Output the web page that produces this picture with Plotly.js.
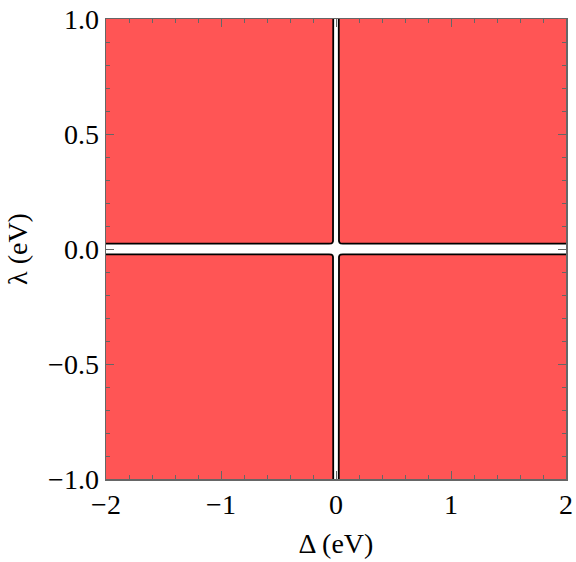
<!DOCTYPE html>
<html>
<head>
<meta charset="utf-8">
<script src="https://cdn.plot.ly/plotly-3.0.1.min.js"></script>
<style>
  body { margin: 0; background: #fff; }
  #graphique { width: 576px; height: 562px; }
</style>
</head>
<body>
<div id="graphique"></div>
<script>
// Bord intérieur de la région (quadrant Δ > 0, λ > 0)
const bord_delta = [0.024, 0.024, 0.026, 0.031, 0.040, 0.060, 2.0];
const bord_lambda = [1.0, 0.048, 0.034, 0.027, 0.024, 0.023, 0.023];
// Coin extérieur du quadrant
const coin_delta = 2.0;
const coin_lambda = 1.0;
// Signes des quatre quadrants
const quadrants = [[1, 1], [-1, 1], [-1, -1], [1, -1]];

const x_ticks = [-2, -1, 0, 1, 2];
const y_ticks = [-1.0, -0.5, 0.0, 0.5, 1.0];

const rouge = '#FF5555';
const gris = '#666666';
const police = 'Liberation Serif, DejaVu Serif, serif';

let donnee = [];

// On remplit chaque quadrant puis on trace sa bordure intérieure
quadrants.forEach(function (s) {
    let xs = bord_delta.map(function (d) { return s[0] * d; });
    let ys = bord_lambda.map(function (l) { return s[1] * l; });

    donnee.push({
        x: xs.concat([s[0] * coin_delta]),
        y: ys.concat([s[1] * coin_lambda]),
        type: 'scatter',
        mode: 'lines',
        fill: 'toself',
        fillcolor: rouge,
        line: {width: 0, color: rouge},
        hoverinfo: 'skip',
        showlegend: false
    });
    donnee.push({
        x: xs,
        y: ys,
        type: 'scatter',
        mode: 'lines',
        line: {width: 1.8, color: '#000000'},
        hoverinfo: 'skip',
        showlegend: false
    });
});

let axe_commun = {
    showgrid: false,
    zeroline: false,
    showline: true,
    mirror: 'ticks',
    linecolor: gris,
    linewidth: 1.5,
    ticks: 'inside',
    ticklen: 8,
    tickwidth: 1,
    tickcolor: gris,
    layer: 'above traces',
    tickfont: {family: police, size: 28, color: '#000000'}
};

let apparence = {
    width: 576,
    height: 562,
    margin: {l: 106, r: 10, t: 19, b: 83},
    paper_bgcolor: '#ffffff',
    plot_bgcolor: '#ffffff',
    showlegend: false,
    xaxis: Object.assign({}, axe_commun, {
        range: [-2, 2],
        tickmode: 'array',
        tickvals: x_ticks,
        ticktext: x_ticks.map(function (v) { return v < 0 ? '\u2212' + Math.abs(v) : String(v); }),
        minor: {dtick: 0.2, ticks: 'inside', ticklen: 4, tickcolor: gris, tickwidth: 1},
        ticklabelstandoff: 0,
        title: {text: '\u0394 (eV)', font: {family: police, size: 28, color: '#000000'}, standoff: 14}
    }),
    yaxis: Object.assign({}, axe_commun, {
        range: [-1, 1],
        tickmode: 'array',
        tickvals: y_ticks,
        ticktext: y_ticks.map(function (v) { return (v < 0 ? '\u2212' : '') + Math.abs(v).toFixed(1); }),
        minor: {dtick: 0.1, ticks: 'inside', ticklen: 4, tickcolor: gris, tickwidth: 1},
        ticklabelstandoff: 0,
        title: {text: '\u03bb (eV)', font: {family: police, size: 28, color: '#000000'}, standoff: 12}
    })
};

Plotly.newPlot('graphique', donnee, apparence, {displayModeBar: false, staticPlot: true});
</script>
</body>
</html>
